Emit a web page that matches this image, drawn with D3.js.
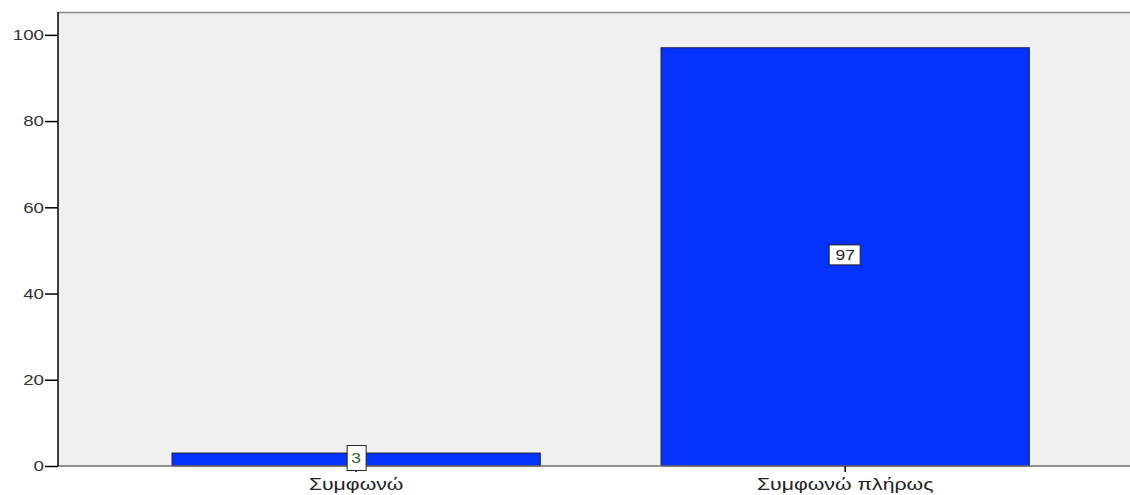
<!DOCTYPE html>
<html><head><meta charset="utf-8">
<script src="https://cdn.jsdelivr.net/npm/d3@7"></script>
<style>body{margin:0;background:#fff}svg{display:block}text{font-family:"Liberation Sans",Arial,sans-serif}</style>
</head><body>
<svg id="c" width="1130" height="495"></svg>
<script>
const categories = ["Συμφωνώ", "Συμφωνώ πλήρως"];
const values = [3, 97];
const yTicks = [0, 20, 40, 60, 80, 100];

const W = 1130, H = 495;
const m = {top: 12, right: 0, bottom: 29, left: 58};
const SX = 1.25;
const svg = d3.select("#c");
const x = d3.scaleBand().domain(categories).range([m.left, W - m.right])
  .paddingInner(0.247).paddingOuter(0.2196).align(0.531);
const y = d3.scaleLinear().domain([0, 105.3]).range([H - m.bottom, m.top]);

svg.append("rect").attr("x", m.left).attr("y", m.top).attr("width", W - m.left - m.right).attr("height", H - m.top - m.bottom).attr("fill", "#f0f0f0");
svg.append("line").attr("x1", m.left).attr("x2", W).attr("y1", m.top + 0.5).attr("y2", m.top + 0.5).attr("stroke", "#8c8c8c").attr("stroke-width", 1.5);

svg.selectAll(".bar").data(values).join("rect")
  .attr("x", (d, i) => x(categories[i]))
  .attr("y", d => y(d))
  .attr("width", x.bandwidth())
  .attr("height", d => y(0) - y(d))
  .attr("fill", "#0433ff").attr("stroke", "#1a1a40").attr("stroke-width", 1);

// x axis
const xa = svg.append("g").attr("transform", `translate(0,${y(0)})`).call(d3.axisBottom(x).tickSize(6).tickSizeOuter(0));
xa.select(".domain").attr("stroke", "#6e6e6e").attr("stroke-width", 1.5).attr("d", `M${m.left},0H${W}`);
xa.selectAll("text").attr("font-size", 17).attr("fill", "#222").attr("dy", null).attr("y", 24)
  .attr("transform", `scale(${SX},1)`);
xa.selectAll(".tick line").attr("stroke", "#000").attr("stroke-width", 1.5);

// y axis
const ya = svg.append("g").attr("transform", `translate(${m.left},0)`).call(d3.axisLeft(y).tickValues(yTicks).tickSize(8).tickSizeOuter(0));
ya.select(".domain").attr("stroke", "#000").attr("stroke-width", 1.5).attr("d", `M0,${m.top}V${y(0)}`);
ya.selectAll(".tick line").attr("stroke", "#000").attr("stroke-width", 1.5).attr("x2", -13);
ya.selectAll("text").attr("font-size", 15).attr("fill", "#333").attr("x", -14 / SX)
  .attr("transform", `scale(${SX},1)`);

// value labels
const lab = svg.selectAll(".lab").data(values).join("g")
  .attr("transform", (d, i) => `translate(${x(categories[i]) + x.bandwidth() / 2},${(y(d) + y(0)) / 2 - 2})`);
lab.append("rect").attr("x", d => d >= 10 ? -16 : -9).attr("y", d => d >= 10 ? -10 : -12).attr("width", d => d >= 10 ? 31 : 19).attr("height", d => d >= 10 ? 20 : 25)
  .attr("fill", "#fff").attr("stroke", "#222").attr("stroke-width", 1);
lab.append("text").attr("text-anchor", "middle").attr("dy", "0.36em").attr("font-size", 14)
  .attr("transform", `scale(${SX},1)`)
  .attr("fill", d => d >= 10 ? "#222" : "#2a6a2a").text(d => d);
</script>
</body></html>
